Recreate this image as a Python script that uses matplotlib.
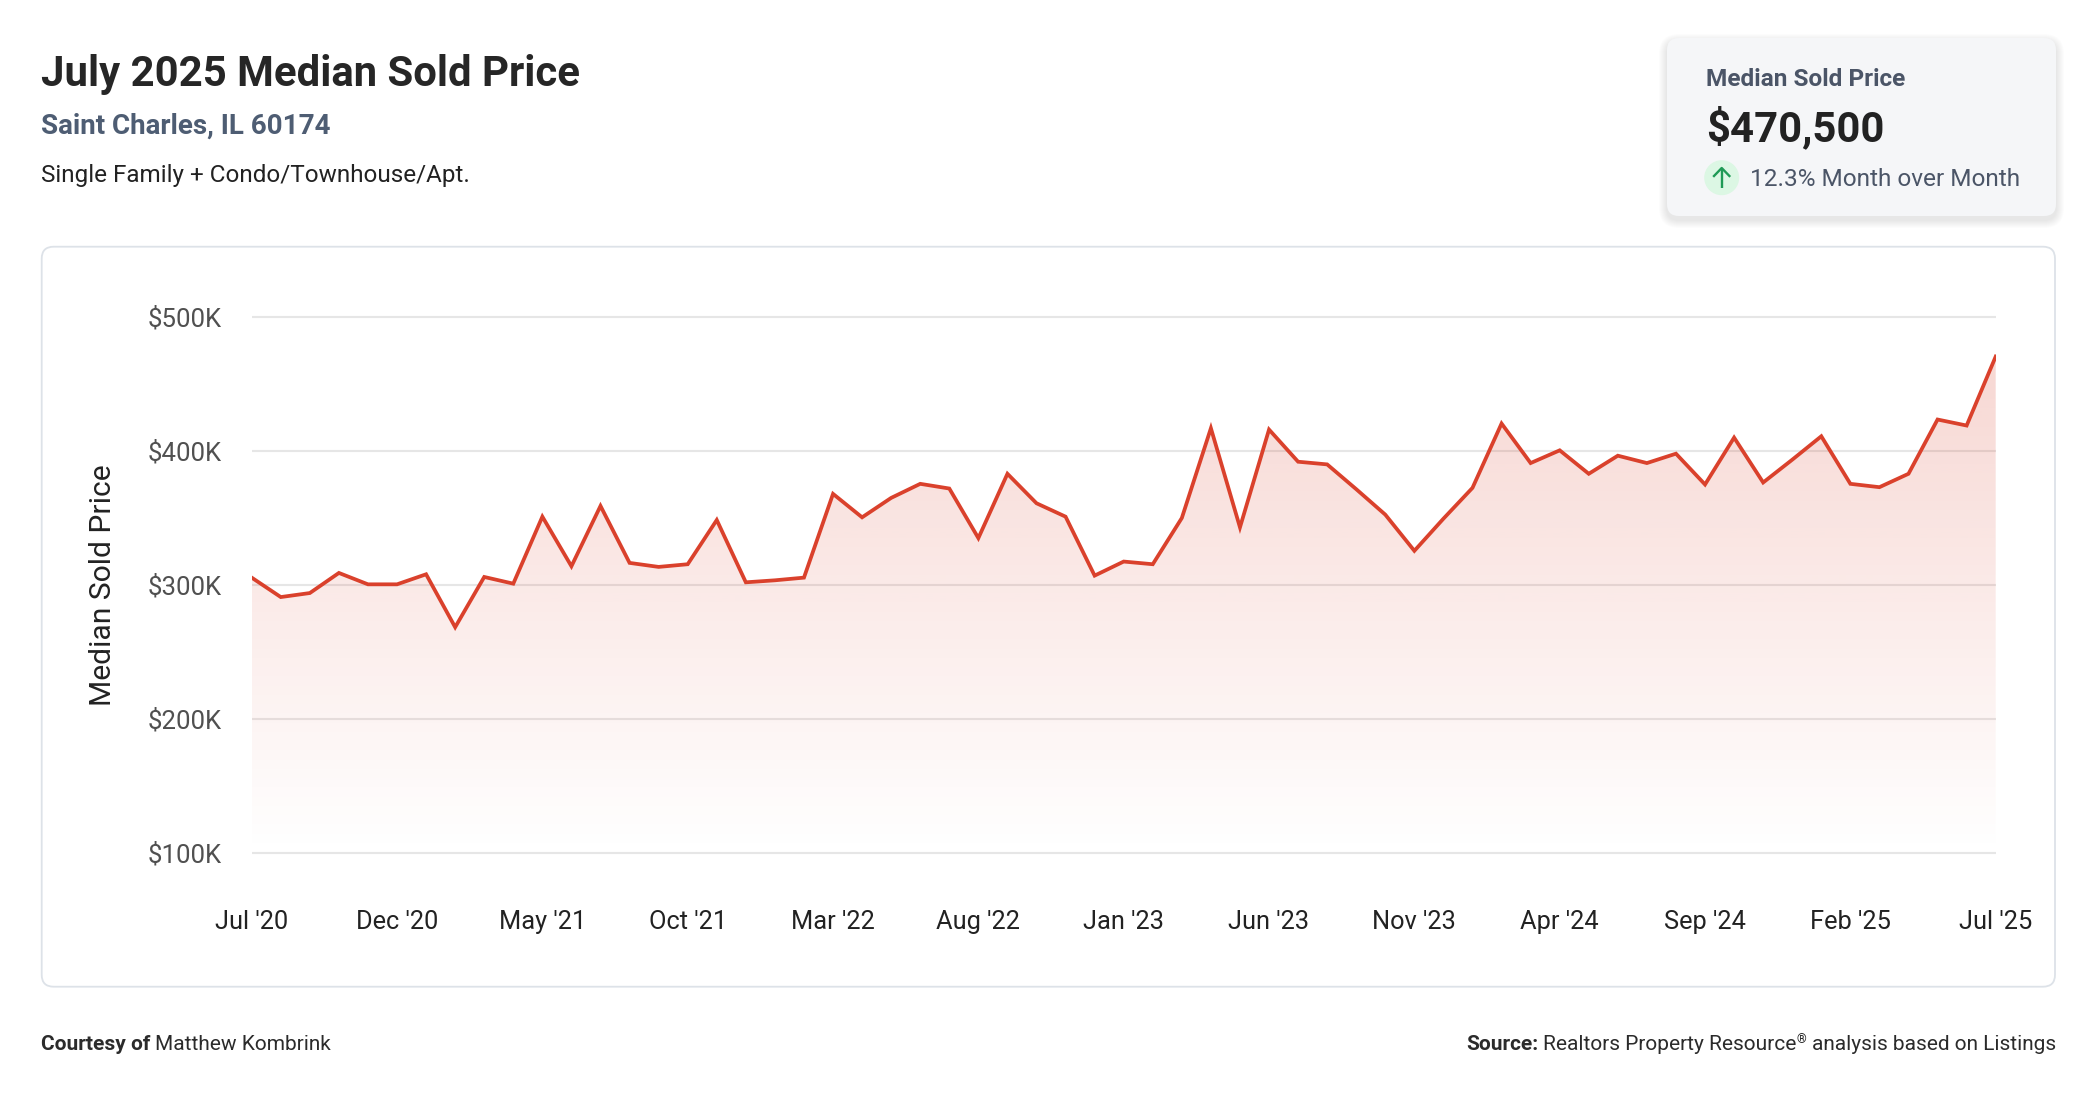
import numpy as np
import matplotlib.pyplot as plt
from matplotlib.patches import FancyBboxPatch, Circle
from matplotlib.colors import to_rgb

plt.rcParams['font.family'] = ['Roboto', 'DejaVu Sans']

# median sold price, monthly Jul 2020 .. Jul 2025
prices = [305500, 291000, 294000, 309000, 300500, 300500, 308000, 268500, 306000, 301000,
          351000, 314000, 359000, 316500, 313500, 315500, 348500, 302000, 303500, 305500,
          368000, 350500, 365000, 375500, 372000, 335000, 383000, 361000, 351000, 307000,
          317500, 315500, 350000, 417000, 343000, 416000, 392000, 390000, 371500, 352500,
          325500, 349500, 372500, 420500, 391000, 400500, 383000, 396500, 391000, 398000,
          375000, 410000, 376500, 393500, 411000, 375500, 373000, 383000, 423500, 419000,
          470500]
tick_labels = ["Jul '20", "Dec '20", "May '21", "Oct '21", "Mar '22", "Aug '22", "Jan '23",
               "Jun '23", "Nov '23", "Apr '24", "Sep '24", "Feb '25", "Jul '25"]
y_ticks = [100000, 200000, 300000, 400000, 500000]
y_labels = ['$100K', '$200K', '$300K', '$400K', '$500K']

W, H = 2096, 1100
line_color = '#da412c'

fig = plt.figure(figsize=(W / 100, H / 100), dpi=100)

# background layer in pixel units (y down)
bg = fig.add_axes([0, 0, 1, 1], zorder=0)
bg.set_xlim(0, W)
bg.set_ylim(H, 0)
bg.axis('off')

bg.add_patch(FancyBboxPatch((41.7, 246.7), 2055 - 41.7, 986.7 - 246.7,
                            boxstyle='round,pad=0,rounding_size=12',
                            fc='white', ec='#dde2e8', lw=1.3))

# summary card with soft shadow
cx, cy, cw, ch = 1667, 38, 389, 178
for s in range(1, 9):
    bg.add_patch(FancyBboxPatch((cx - s, cy - s + 4), cw + 2 * s, ch + 2 * s,
                                boxstyle='round,pad=0,rounding_size=%d' % (12 + s),
                                fc='black', ec='none', alpha=0.012))
bg.add_patch(FancyBboxPatch((cx, cy), cw, ch, boxstyle='round,pad=0,rounding_size=12',
                            fc='#f5f6f8', ec='none'))
bg.add_patch(Circle((1721.7, 177.7), 17.5, fc='#dcf7e4', ec='none'))
bg.plot([1721.7, 1721.7], [187.5, 168.5], color='#1f9a56', lw=1.7, solid_capstyle='butt')
bg.plot([1714, 1721.7, 1729.4], [176, 168, 176], color='#1f9a56', lw=1.7)

bg.text(1705.7, 85.7, 'Median Sold Price', fontsize=17.6, weight='bold', color='#4b5567', va='baseline')
bg.text(1705.7, 141.7, '$470,500', fontsize=30.2, weight='bold', color='#222222', va='baseline')
bg.text(1750, 186, '12.3% Month over Month', fontsize=17.6, color='#4b5567', va='baseline')

# header
bg.text(40.7, 85.7, 'July 2025 Median Sold Price', fontsize=30.2, weight='bold', color='#262626', va='baseline')
bg.text(40.7, 134, 'Saint Charles, IL 60174', fontsize=20, weight='bold', color='#4e5d73', va='baseline')
bg.text(40.7, 182, 'Single Family + Condo/Townhouse/Apt.', fontsize=17.5, color='#222222', va='baseline')

bg.text(103, 585.6, 'Median Sold Price', fontsize=21.6, color='#222222', rotation=90,
        ha='center', va='center')


def rich(parts, x, y, align='left'):
    r = fig.canvas.get_renderer()
    items = []
    for s, size, weight, dy, gap in parts:
        t = bg.text(0, y - dy, s, fontsize=size, weight=weight, color='#2b2b2b', va='baseline')
        w = t.get_window_extent(r).width
        items.append((t, w, gap * size * 100 / 72))
    total = sum(w + g for _, w, g in items)
    pos = x if align == 'left' else x - total
    for t, w, g in items:
        pos += g
        t.set_x(pos)
        pos += w


rich([('Courtesy of', 15, 'bold', 0, 0), ('Matthew Kombrink', 15, 'normal', 0, 0.25)], 40.7, 1050)
rich([('Source:', 15, 'bold', 0, 0), ('Realtors Property Resource', 15, 'normal', 0, 0.25),
      ('®', 9, 'normal', 7, 0.03), ('analysis based on Listings', 15, 'normal', 0, 0.25)],
     2056, 1050, align='right')

# chart area
ylo, yhi = 95000, 505000
px_per = 134 / 100000
top_px = 317 - (yhi - 500000) * px_per
bot_px = 853 + (100000 - ylo) * px_per
left, right = 251.7 / W, 1995.7 / W
ax = fig.add_axes([left, 1 - bot_px / H, right - left, (bot_px - top_px) / H], zorder=1)
ax.patch.set_alpha(0)

x = np.arange(len(prices))
ax.set_xlim(0, len(prices) - 1)
ax.set_ylim(ylo, yhi)

grad = np.zeros((256, 1, 4))
grad[..., :3] = to_rgb(line_color)
grad[:, 0, 3] = np.linspace(0.21, 0.0, 256)
im = ax.imshow(grad, extent=[0, len(prices) - 1, 100000, max(prices)], origin='upper',
               aspect='auto', zorder=1, interpolation='bilinear')
area = ax.fill_between(x, prices, 100000, color='none', lw=0)
im.set_clip_path(area.get_paths()[0], transform=ax.transData)

ax.plot(x, prices, color=line_color, lw=2.7, zorder=3, solid_joinstyle='miter')

ax.set_yticks(y_ticks)
ax.set_yticklabels(y_labels)
ax.set_xticks(x[::5])
ax.set_xticklabels(tick_labels)
ax.yaxis.grid(True, color='#e6e6e6', lw=1.5, zorder=0)
ax.set_axisbelow(True)
for sp in ax.spines.values():
    sp.set_visible(False)
ax.tick_params(axis='y', length=0, pad=21.4, labelsize=18.5, labelcolor='#505050')
ax.tick_params(axis='x', length=0, pad=36, labelsize=18.3, labelcolor='#222222')

fig.savefig('out.png', dpi=100)
